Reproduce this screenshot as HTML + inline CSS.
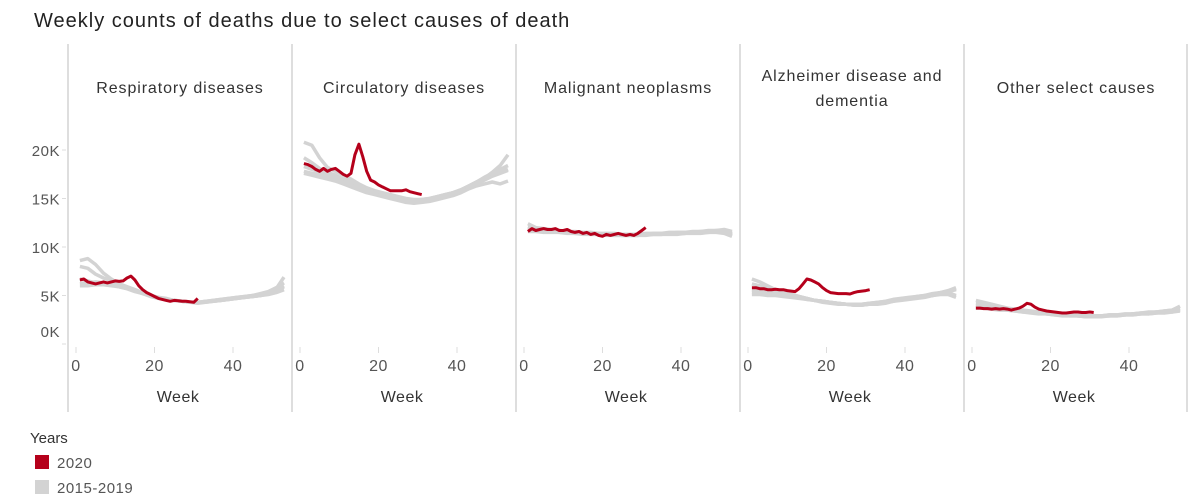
<!DOCTYPE html>
<html><head><meta charset="utf-8">
<style>
body{margin:0;background:#fff;font-family:"Liberation Sans",sans-serif;}
#wrap{position:relative;width:1200px;height:502px;overflow:hidden;}
svg text{font-family:"Liberation Sans",sans-serif;}
</style></head>
<body>
<div id="wrap">
<svg id="chart" width="1200" height="502">
  <text x="34" y="27" font-size="20" letter-spacing="1" fill="#222">Weekly counts of deaths due to select causes of death</text>
  <text x="30" y="443" font-size="15" fill="#333">Years</text>
  <rect x="35" y="455" width="14" height="14" fill="#b5001b"/>
  <text x="57" y="468" font-size="15" fill="#555" letter-spacing="0.5">2020</text>
  <rect x="35" y="480" width="14" height="14" fill="#d3d3d3"/>
  <text x="57" y="493" font-size="15" fill="#555" letter-spacing="0.5">2015-2019</text>
</svg>
</div>
<script>
const panelTitles = [["Respiratory diseases"],["Circulatory diseases"],["Malignant neoplasms"],["Alzheimer disease and","dementia"],["Other select causes"]];
const yTicks = [0,5000,10000,15000,20000];
const yTickLabels = ["0K","5K","10K","15K","20K"];
const xTicks = [0,20,40];
// 2020 weekly values (weeks 1..31)
const resp2020 = [6600,6700,6400,6300,6200,6300,6400,6300,6400,6500,6450,6500,6800,7000,6600,6000,5600,5300,5100,4900,4700,4600,4500,4400,4500,4450,4400,4400,4350,4300,4700];
const circ2020 = [18600,18500,18300,18000,17800,18100,17800,18000,18100,17800,17500,17300,17600,19500,20600,19300,17800,16900,16700,16400,16200,16000,15800,15800,15800,15800,15900,15700,15600,15500,15400];
const malig2020 = [11600,11900,11700,11800,11900,11800,11800,11900,11700,11700,11800,11600,11500,11600,11400,11500,11300,11400,11200,11100,11300,11200,11300,11400,11300,11200,11300,11200,11400,11700,12000];
const alz2020 = [5800,5800,5700,5700,5600,5600,5650,5600,5600,5500,5450,5400,5700,6200,6700,6600,6400,6200,5800,5500,5300,5250,5200,5200,5200,5150,5300,5400,5450,5500,5600];
const other2020 = [3700,3700,3650,3650,3600,3650,3600,3650,3600,3500,3600,3700,3900,4200,4100,3800,3600,3500,3400,3350,3300,3250,3200,3200,3250,3300,3300,3250,3250,3300,3250];
// 2015-2019 values every two weeks (weeks 1,3,...,53)
const respGray = [
 [8600,8800,8200,7300,6700,6200,5900,5600,5300,5000,4800,4600,4500,4400,4300,4300,4400,4500,4600,4700,4800,4900,5000,5100,5300,5700,6900],
 [8000,7800,7200,6800,6500,6200,5900,5600,5300,5000,4800,4700,4500,4400,4300,4300,4400,4500,4600,4700,4800,4900,5000,5200,5400,5800,6300],
 [6200,6300,6400,6300,6200,6000,5800,5500,5200,5000,4800,4600,4500,4400,4300,4300,4400,4400,4500,4600,4700,4800,4900,5000,5200,5500,5900],
 [6000,6000,6100,6100,6000,5900,5700,5400,5200,4900,4700,4600,4500,4400,4300,4300,4300,4400,4500,4600,4700,4800,4900,5000,5100,5300,5600],
 [6700,6500,6300,6200,6100,5900,5700,5500,5200,5000,4800,4600,4500,4400,4300,4200,4300,4400,4500,4600,4700,4800,4900,5000,5200,5600,6000]];
const circGray = [
 [20800,20500,19200,18200,17800,17400,17000,16500,16100,15800,15600,15400,15200,15000,14900,14900,15000,15200,15400,15600,15800,16200,16600,17100,17700,18400,19500],
 [19200,18700,18100,17700,17400,17000,16700,16300,16000,15700,15500,15300,15100,14900,14800,14900,15000,15200,15400,15600,15900,16300,16700,17200,17600,18000,18400],
 [18300,18000,17800,17600,17300,16900,16600,16200,15900,15600,15400,15200,15000,14800,14700,14800,14900,15100,15300,15600,15900,16300,16700,17100,17400,17700,18000],
 [17800,17600,17500,17300,17000,16700,16400,16000,15700,15500,15300,15100,14900,14700,14600,14700,14800,15000,15200,15400,15700,16100,16500,16900,17300,17600,17900],
 [17600,17400,17200,17000,16800,16500,16200,15900,15600,15400,15200,15000,14800,14600,14500,14600,14700,14900,15100,15300,15600,16000,16300,16500,16700,16500,16800]];
const maligGray = [
 [12400,12000,11900,11800,11700,11600,11600,11500,11500,11400,11400,11400,11300,11300,11300,11400,11400,11400,11500,11500,11500,11600,11600,11700,11700,11800,11600],
 [12100,11900,11800,11700,11700,11600,11500,11500,11400,11400,11300,11300,11300,11300,11300,11300,11400,11400,11400,11500,11500,11500,11600,11600,11700,11700,11400],
 [11800,11700,11700,11600,11600,11500,11500,11400,11400,11300,11300,11300,11200,11200,11200,11300,11300,11300,11400,11400,11400,11500,11500,11500,11600,11500,11200],
 [11600,11600,11500,11500,11500,11400,11400,11300,11300,11300,11200,11200,11200,11200,11200,11200,11300,11300,11300,11300,11400,11400,11400,11500,11500,11400,11100],
 [12000,11800,11700,11600,11500,11500,11400,11400,11300,11300,11300,11200,11200,11200,11200,11300,11300,11300,11400,11400,11400,11500,11500,11600,11600,11600,11300]];
const alzGray = [
 [6700,6400,6000,5600,5300,5100,4900,4700,4500,4400,4300,4200,4100,4100,4100,4200,4300,4400,4500,4600,4700,4800,4900,5000,5200,5400,5700],
 [6200,6000,5700,5500,5300,5100,4900,4700,4500,4400,4300,4200,4100,4100,4100,4200,4300,4400,4600,4700,4800,4900,5000,5200,5300,5500,5800],
 [5600,5500,5400,5300,5200,5000,4800,4700,4500,4400,4300,4200,4100,4000,4000,4100,4200,4300,4500,4600,4700,4900,5000,5100,5300,5400,5600],
 [5300,5300,5200,5100,5000,4900,4800,4600,4500,4400,4300,4200,4100,4000,4000,4100,4200,4300,4400,4600,4700,4800,4900,5000,5200,5300,5000],
 [5100,5100,5000,5000,4900,4800,4700,4600,4500,4300,4200,4100,4100,4000,4000,4100,4100,4200,4400,4500,4600,4700,4800,5000,5100,5100,4800]];
const otherGray = [
 [4500,4300,4100,3900,3700,3600,3500,3400,3300,3200,3100,3100,3000,3000,2900,2900,2900,3000,3000,3100,3100,3200,3300,3300,3400,3500,3900],
 [4200,4100,3900,3800,3600,3500,3400,3300,3200,3200,3100,3000,3000,2900,2900,2900,2900,3000,3000,3000,3100,3200,3200,3300,3400,3500,3700],
 [4000,3900,3800,3700,3600,3500,3400,3300,3200,3100,3100,3000,3000,2900,2900,2900,2900,2900,3000,3000,3100,3100,3200,3300,3300,3400,3600],
 [3800,3800,3700,3600,3500,3400,3300,3300,3200,3100,3000,3000,2900,2900,2800,2800,2900,2900,2900,3000,3000,3100,3100,3200,3300,3300,3500],
 [3700,3700,3600,3500,3500,3400,3300,3200,3100,3100,3000,2900,2900,2900,2800,2800,2800,2900,2900,3000,3000,3100,3100,3200,3200,3300,3400]];
const series2020 = [resp2020,circ2020,malig2020,alz2020,other2020];
const seriesGray = [respGray,circGray,maligGray,alzGray,otherGray];

const NS="http://www.w3.org/2000/svg";
const svg=document.getElementById('chart');
const panelX=[68,292,516,740,964], panelW=224;
const yScale=v=>344 - v*194/20000;
const xScale=(p,w)=>panelX[p]+8+w*78.5/20;
function mk(tag,attrs,parent){const e=document.createElementNS(NS,tag);for(const k in attrs)e.setAttribute(k,attrs[k]);(parent||svg).appendChild(e);return e;}

yTicks.forEach((t,i)=>{
  const y=yScale(t);
  const tx=mk('text',{x:60,y:(t===0? y-7: y+6),'text-anchor':'end','font-size':15,fill:'#555','letter-spacing':0.5});
  tx.textContent=yTickLabels[i];
  
  
  mk('line',{x1:62,x2:66,y1:y,y2:y,stroke:'#ddd'});
});
[68,292,516,740,964,1187].forEach(x=>{
  const l=mk('line',{x1:x,x2:x,y1:44,y2:412,stroke:'#d4d4d4','stroke-width':1.5});
  
  
});
for(let p=0;p<5;p++){
  const g=mk('g',{});
  
  
  const cx=panelX[p]+panelW/2;
  const lines=panelTitles[p];
  lines.forEach((s,i)=>{
    const y = lines.length===1 ? 93 : 81+i*25;
    const t=mk('text',{x:cx,y:y,'text-anchor':'middle','font-size':16,fill:'#333','letter-spacing':0.9},g);
    t.textContent=s;
    
    
  });
  xTicks.forEach(w=>{
    const x=xScale(p,w);
    mk('line',{x1:x,x2:x,y1:347,y2:353,stroke:'#ddd'},g);
    const t=mk('text',{x:x,y:371,'text-anchor':'middle','font-size':16,fill:'#555','letter-spacing':0.5},g);
    t.textContent=String(w);
    
    
  });
  const wl=mk('text',{x:xScale(p,26),y:402,'text-anchor':'middle','font-size':16,fill:'#333','letter-spacing':0.5},g);
  wl.textContent='Week';
  
  
  seriesGray[p].forEach((arr,k)=>{
    const d=arr.map((v,i)=>(i?'L':'M')+xScale(p,1+2*i).toFixed(1)+','+yScale(v).toFixed(1)).join('');
    const pa=mk('path',{d:d,fill:'none',stroke:'#d3d3d3','stroke-width':3.5,'stroke-linejoin':'round'},g);
    
    
  });
  const d=series2020[p].map((v,i)=>(i?'L':'M')+xScale(p,1+i).toFixed(1)+','+yScale(v).toFixed(1)).join('');
  const pr=mk('path',{d:d,fill:'none',stroke:'#b5001b','stroke-width':3,'stroke-linejoin':'round'},g);
  
  
}
</script>
</body></html>
